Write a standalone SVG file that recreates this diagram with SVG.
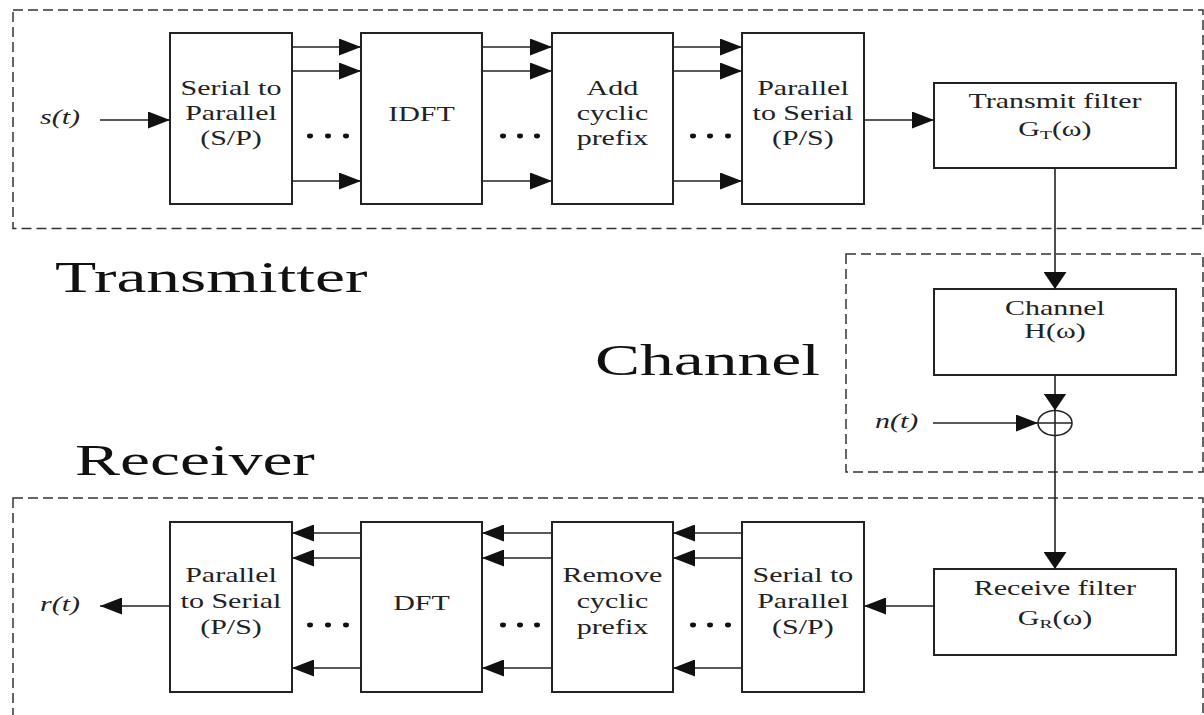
<svg xmlns="http://www.w3.org/2000/svg" width="1204" height="715" viewBox="0 0 1204 715">
<style>
.t{font-family:"Liberation Serif","Times New Roman",serif;font-size:20px;fill:#222;text-anchor:middle}
.it{font-family:"Liberation Serif","Times New Roman",serif;font-size:20px;font-style:italic;fill:#222}
.big{font-family:"Liberation Serif","Times New Roman",serif;font-size:45px;fill:#111}
.box{fill:#fff;stroke:#222;stroke-width:2}
.dash{fill:none;stroke:#333;stroke-width:1.5;stroke-dasharray:10 5}
.ln{fill:none;stroke:#222;stroke-width:1.6}
.dot{fill:#111}
.sub{font-size:13px}
</style>
<defs>
<marker id="ah" markerUnits="userSpaceOnUse" markerWidth="22" markerHeight="17" refX="22" refY="8.5" orient="auto"><path d="M0,0 L22,8.5 L0,17 z" fill="#111"/></marker>
<marker id="av" markerUnits="userSpaceOnUse" markerWidth="17" markerHeight="23" refX="17" refY="11.5" orient="auto"><path d="M0,0 L17,11.5 L0,23 z" fill="#111"/></marker>
</defs>
<rect width="1204" height="715" fill="#fff"/>

<g id="regions">
<rect class="dash" x="13" y="10" width="1190" height="218.5"/>
<rect class="dash" x="846" y="254" width="357" height="218"/>
<rect class="dash" x="13" y="498" width="1190" height="240"/>
<g transform="scale(1.5 1)">
<text class="big" x="36.7" y="292">Transmitter</text>
<text class="big" x="396.7" y="375">Channel</text>
<text class="big" x="50" y="475">Receiver</text>
</g>
</g>

<g id="tx-sp">
<rect class="box" x="170" y="33" width="122" height="171"/>
<g transform="scale(1.5 1)"><text class="t" x="154" y="95">Serial to</text><text class="t" x="154" y="120">Parallel</text><text class="t" x="154" y="145">(S/P)</text></g>
</g>
<g id="tx-idft">
<rect class="box" x="361" y="33" width="121" height="171"/>
<g transform="scale(1.5 1)"><text class="t" x="281" y="121">IDFT</text></g>
</g>
<g id="tx-cp">
<rect class="box" x="552" y="33" width="121" height="171"/>
<g transform="scale(1.5 1)"><text class="t" x="408.3" y="95">Add</text><text class="t" x="408.3" y="120">cyclic</text><text class="t" x="408.3" y="145">prefix</text></g>
</g>
<g id="tx-ps">
<rect class="box" x="742" y="33" width="122" height="171"/>
<g transform="scale(1.5 1)"><text class="t" x="535.3" y="95">Parallel</text><text class="t" x="535.3" y="120">to Serial</text><text class="t" x="535.3" y="145">(P/S)</text></g>
</g>
<g id="tx-filter">
<rect class="box" x="934" y="83" width="242" height="85"/>
<g transform="scale(1.5 1)"><text class="t" x="703.3" y="108">Transmit filter</text><text class="t" x="703.3" y="136">G<tspan class="sub" dy="3">T</tspan><tspan dy="-3">(ω)</tspan></text></g>
</g>
<g id="channel">
<rect class="box" x="934" y="289" width="242" height="86"/>
<g transform="scale(1.5 1)"><text class="t" x="703.3" y="315">Channel</text><text class="t" x="703.3" y="338">H(ω)</text></g>
</g>
<g id="adder">
<ellipse cx="1055" cy="423" rx="17" ry="12.5" fill="#fff" stroke="#222" stroke-width="1.6"/>
<line class="ln" x1="1038" y1="423" x2="1072" y2="423"/>
<line class="ln" x1="1055" y1="410.5" x2="1055" y2="435.5"/>
</g>
<g id="rx-filter">
<rect class="box" x="934" y="569" width="242" height="86"/>
<g transform="scale(1.5 1)"><text class="t" x="703.3" y="595">Receive filter</text><text class="t" x="703.3" y="625">G<tspan class="sub" dy="3">R</tspan><tspan dy="-3">(ω)</tspan></text></g>
</g>
<g id="rx-sp">
<rect class="box" x="742" y="522" width="122" height="170"/>
<g transform="scale(1.5 1)"><text class="t" x="535.3" y="582">Serial to</text><text class="t" x="535.3" y="608">Parallel</text><text class="t" x="535.3" y="634">(S/P)</text></g>
</g>
<g id="rx-cp">
<rect class="box" x="552" y="522" width="121" height="170"/>
<g transform="scale(1.5 1)"><text class="t" x="408.3" y="582">Remove</text><text class="t" x="408.3" y="608">cyclic</text><text class="t" x="408.3" y="634">prefix</text></g>
</g>
<g id="rx-dft">
<rect class="box" x="361" y="522" width="121" height="170"/>
<g transform="scale(1.5 1)"><text class="t" x="281" y="610">DFT</text></g>
</g>
<g id="rx-ps">
<rect class="box" x="170" y="522" width="122" height="170"/>
<g transform="scale(1.5 1)"><text class="t" x="154" y="582">Parallel</text><text class="t" x="154" y="608">to Serial</text><text class="t" x="154" y="634">(P/S)</text></g>
</g>

<g id="signals" transform="scale(1.5 1)">
<text class="it" x="26.7" y="124">s(t)</text>
<text class="it" x="583.3" y="428">n(t)</text>
<text class="it" x="26.7" y="611">r(t)</text>
</g>

<g id="connectors">
<line class="ln" x1="100" y1="120" x2="170" y2="120" marker-end="url(#ah)"/>
<line class="ln" x1="292" y1="47" x2="361" y2="47" marker-end="url(#ah)"/>
<line class="ln" x1="292" y1="71" x2="361" y2="71" marker-end="url(#ah)"/>
<line class="ln" x1="292" y1="181" x2="361" y2="181" marker-end="url(#ah)"/>
<line class="ln" x1="482" y1="47" x2="552" y2="47" marker-end="url(#ah)"/>
<line class="ln" x1="482" y1="71" x2="552" y2="71" marker-end="url(#ah)"/>
<line class="ln" x1="482" y1="181" x2="552" y2="181" marker-end="url(#ah)"/>
<line class="ln" x1="673" y1="47" x2="742" y2="47" marker-end="url(#ah)"/>
<line class="ln" x1="673" y1="71" x2="742" y2="71" marker-end="url(#ah)"/>
<line class="ln" x1="673" y1="181" x2="742" y2="181" marker-end="url(#ah)"/>
<line class="ln" x1="864" y1="120" x2="934" y2="120" marker-end="url(#ah)"/>
<line class="ln" x1="1055" y1="168" x2="1055" y2="289" marker-end="url(#av)"/>
<line class="ln" x1="1055" y1="375" x2="1055" y2="410.5" marker-end="url(#av)"/>
<line class="ln" x1="933" y1="423" x2="1038" y2="423" marker-end="url(#ah)"/>
<line class="ln" x1="1055" y1="435.5" x2="1055" y2="569" marker-end="url(#av)"/>
<line class="ln" x1="934" y1="606" x2="864" y2="606" marker-end="url(#ah)"/>
<line class="ln" x1="742" y1="533" x2="673" y2="533" marker-end="url(#ah)"/>
<line class="ln" x1="742" y1="558" x2="673" y2="558" marker-end="url(#ah)"/>
<line class="ln" x1="742" y1="668" x2="673" y2="668" marker-end="url(#ah)"/>
<line class="ln" x1="552" y1="533" x2="482" y2="533" marker-end="url(#ah)"/>
<line class="ln" x1="552" y1="558" x2="482" y2="558" marker-end="url(#ah)"/>
<line class="ln" x1="552" y1="668" x2="482" y2="668" marker-end="url(#ah)"/>
<line class="ln" x1="361" y1="533" x2="292" y2="533" marker-end="url(#ah)"/>
<line class="ln" x1="361" y1="558" x2="292" y2="558" marker-end="url(#ah)"/>
<line class="ln" x1="361" y1="668" x2="292" y2="668" marker-end="url(#ah)"/>
<line class="ln" x1="170" y1="606" x2="100" y2="606" marker-end="url(#ah)"/>
</g>

<g id="ellipsis">
<ellipse class="dot" cx="310" cy="136" rx="3" ry="2.4"/><ellipse class="dot" cx="328" cy="136" rx="3" ry="2.4"/><ellipse class="dot" cx="346" cy="136" rx="3" ry="2.4"/>
<ellipse class="dot" cx="503" cy="136" rx="3" ry="2.4"/><ellipse class="dot" cx="520" cy="136" rx="3" ry="2.4"/><ellipse class="dot" cx="537" cy="136" rx="3" ry="2.4"/>
<ellipse class="dot" cx="693" cy="136" rx="3" ry="2.4"/><ellipse class="dot" cx="710" cy="136" rx="3" ry="2.4"/><ellipse class="dot" cx="728" cy="136" rx="3" ry="2.4"/>
<ellipse class="dot" cx="310" cy="625" rx="3" ry="2.4"/><ellipse class="dot" cx="328" cy="625" rx="3" ry="2.4"/><ellipse class="dot" cx="346" cy="625" rx="3" ry="2.4"/>
<ellipse class="dot" cx="503" cy="625" rx="3" ry="2.4"/><ellipse class="dot" cx="520" cy="625" rx="3" ry="2.4"/><ellipse class="dot" cx="537" cy="625" rx="3" ry="2.4"/>
<ellipse class="dot" cx="693" cy="625" rx="3" ry="2.4"/><ellipse class="dot" cx="710" cy="625" rx="3" ry="2.4"/><ellipse class="dot" cx="728" cy="625" rx="3" ry="2.4"/>
</g>
</svg>
